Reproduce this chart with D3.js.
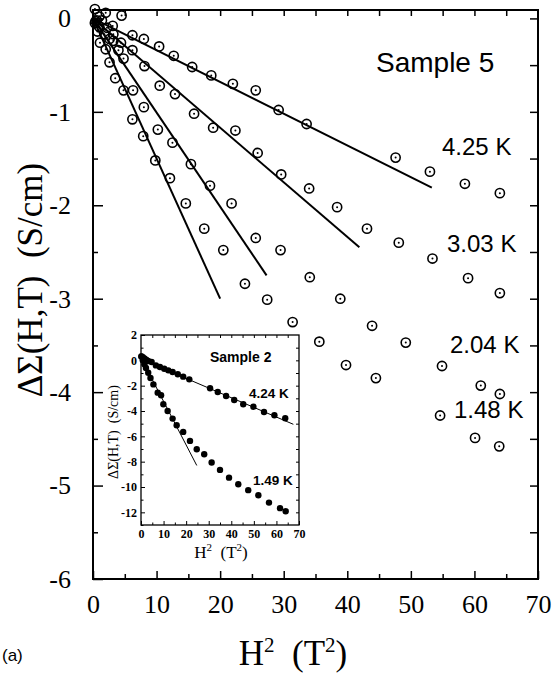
<!DOCTYPE html>
<html>
<head>
<meta charset="utf-8">
<script src="https://cdn.jsdelivr.net/npm/d3@7"></script>
<style>
  body { margin: 0; background: #fff; }
  svg { display: block; }
  .tick text { font-family: "Liberation Serif", "Times New Roman", serif; }
</style>
</head>
<body>
<div id="chart"></div>
<script>
// ---- main panel data (Sample 5), H^2 in T^2, dSigma in S/cm
const h2_425 = [0.3, 1.0, 2.0, 3.1, 4.5, 6.2, 8.0, 10.4, 12.7, 15.6, 18.6, 22.0, 25.6, 29.2, 33.6, 47.6, 53.0, 58.5, 64.0];
const ds_425 = [0.1, 0.02, 0.06, -0.08, 0.03, -0.18, -0.22, -0.30, -0.40, -0.52, -0.61, -0.70, -0.77, -0.98, -1.13, -1.49, -1.64, -1.77, -1.87];

const h2_303 = [0.6, 1.4, 2.2, 3.2, 4.4, 6.2, 8.1, 10.5, 12.9, 15.9, 18.9, 22.4, 25.9, 29.6, 34.0, 38.4, 43.1, 48.1, 53.4, 59.0, 64.0];
const ds_303 = [-0.02, -0.02, -0.10, -0.17, -0.26, -0.34, -0.51, -0.72, -0.81, -1.02, -1.17, -1.20, -1.44, -1.67, -1.82, -2.02, -2.25, -2.40, -2.57, -2.78, -2.94];

const h2_204 = [0.4, 1.0, 1.8, 2.6, 3.2, 4.0, 4.8, 6.3, 8.0, 10.2, 12.5, 15.4, 18.4, 21.8, 25.6, 29.5, 34.1, 38.9, 43.9, 49.2, 54.9, 61.0, 64.0];
const ds_204 = [-0.03, -0.09, -0.17, -0.22, -0.24, -0.34, -0.43, -0.77, -0.95, -1.19, -1.33, -1.56, -1.79, -1.98, -2.35, -2.48, -2.77, -3.00, -3.29, -3.47, -3.72, -3.93, -4.02];

const h2_148 = [0.3, 0.7, 1.1, 2.0, 2.6, 3.5, 4.8, 6.2, 7.9, 9.8, 12.1, 14.6, 17.5, 20.5, 23.9, 27.4, 31.4, 35.6, 39.8, 44.5, 54.6, 60.1, 63.9];
const ds_148 = [-0.05, -0.14, -0.26, -0.33, -0.47, -0.64, -0.77, -1.08, -1.26, -1.52, -1.71, -1.98, -2.25, -2.48, -2.84, -3.01, -3.25, -3.46, -3.71, -3.85, -4.25, -4.49, -4.58];

// fitted straight lines: [x0, y0, x1, y1]
const fit_425 = [0, 0, 53.3, -1.81];
const fit_303 = [0, 0, 41.9, -2.45];
const fit_204 = [0, 0, 27.3, -2.75];
const fit_148 = [0, 0, 20.0, -3.0];

const tempLabels = ["4.25 K", "3.03 K", "2.04 K", "1.48 K"];

// ---- inset data (Sample 2)
const h2_424 = [0.2, 0.8, 1.5, 2.3, 3.2, 4.7, 6.6, 8.4, 10.3, 12.1, 14.0, 16.3, 18.7, 21.4, 30.6, 34.0, 37.7, 41.3, 45.3, 49.8, 54.5, 59.1, 63.9];
const ds_424 = [0.3, 0.25, 0.15, 0.05, -0.05, -0.13, -0.4, -0.53, -0.66, -0.79, -0.92, -1.1, -1.29, -1.5, -2.2, -2.5, -2.82, -3.13, -3.47, -3.66, -4.08, -4.34, -4.57];

const h2_149 = [0.2, 0.8, 1.5, 2.2, 3.2, 4.2, 5.5, 7.4, 8.9, 9.9, 11.8, 14.0, 15.8, 18.7, 21.7, 24.7, 28.0, 31.3, 35.0, 39.0, 43.1, 47.5, 52.0, 56.7, 61.6, 64.1];
const ds_149 = [0.3, 0.0, -0.3, -0.6, -0.98, -1.4, -1.9, -2.55, -2.76, -3.47, -4.0, -4.6, -5.13, -5.65, -6.36, -7.02, -7.41, -8.07, -8.65, -9.26, -9.78, -10.25, -10.65, -11.23, -11.67, -11.91];

const fit_424 = [0, 0.1, 67.5, -5.05];
const fit_149 = [0, 0.2, 24.7, -8.3];

const xTicks = [0, 10, 20, 30, 40, 50, 60, 70];
const yTicks = [0, -1, -2, -3, -4, -5, -6];
const insetYTicks = [2, 0, -2, -4, -6, -8, -10, -12];

const W = 553, H = 673;
const svg = d3.select("#chart").append("svg")
    .attr("width", W)
    .attr("height", H);

// ---------------- main panel
const m = {left: 93, top: 10, width: 445, height: 569};

const x = d3.scaleLinear().domain([0, 70]).range([m.left, m.left + m.width]);
const y = d3.scaleLinear().domain([-6, 0.09]).range([m.top + m.height, m.top]);

const serif = "'Liberation Serif', 'Times New Roman', serif";
const sans = "'Liberation Sans', Arial, Helvetica, sans-serif";

function styleAxis(g, size, weight) {
    g.select(".domain").remove();
    g.selectAll(".tick line").attr("stroke", "#000").attr("stroke-width", 1.5);
    g.selectAll(".tick text")
        .attr("fill", "#000")
        .style("font-family", serif)
        .style("font-size", size + "px")
        .style("font-weight", weight);
}

// bottom axis, major + minor, inward ticks
svg.append("g")
    .attr("transform", `translate(0,${m.top + m.height})`)
    .call(d3.axisBottom(x).tickValues(xTicks).tickSize(-8).tickPadding(16).tickFormat(d => String(d)))
    .call(g => styleAxis(g, 26, "normal"));
svg.append("g")
    .attr("transform", `translate(0,${m.top + m.height})`)
    .call(d3.axisBottom(x).tickValues(d3.range(5, 70, 10)).tickSize(-5).tickFormat(""))
    .call(g => styleAxis(g, 26, "normal"));

// top axis
svg.append("g")
    .attr("transform", `translate(0,${m.top})`)
    .call(d3.axisTop(x).tickValues(d3.range(5, 70, 5)).tickSize(-6).tickFormat(""))
    .call(g => styleAxis(g, 26, "normal"));

// left axis
svg.append("g")
    .attr("transform", `translate(${m.left},0)`)
    .call(d3.axisLeft(y).tickValues(yTicks).tickSize(-10).tickPadding(22).tickFormat(d => String(d)))
    .call(g => styleAxis(g, 26, "normal"));
svg.append("g")
    .attr("transform", `translate(${m.left},0)`)
    .call(d3.axisLeft(y).tickValues(d3.range(-5.5, 0, 1)).tickSize(-5).tickFormat(""))
    .call(g => styleAxis(g, 26, "normal"));

// right axis
svg.append("g")
    .attr("transform", `translate(${m.left + m.width},0)`)
    .call(d3.axisRight(y).tickValues(d3.range(-5.5, 0.01, 0.5)).tickSize(-8).tickFormat(""))
    .call(g => styleAxis(g, 26, "normal"));

// frame
svg.append("rect")
    .attr("x", m.left).attr("y", m.top)
    .attr("width", m.width).attr("height", m.height)
    .attr("fill", "none").attr("stroke", "#000").attr("stroke-width", 2);

// fit lines
const mainFits = [fit_425, fit_303, fit_204, fit_148];
svg.append("g").selectAll("line")
    .data(mainFits)
    .enter().append("line")
    .attr("x1", d => x(d[0])).attr("y1", d => y(d[1]))
    .attr("x2", d => x(d[2])).attr("y2", d => y(d[3]))
    .attr("stroke", "#000").attr("stroke-width", 2);

// open circle markers with centre dot
const mainSeries = [[h2_425, ds_425], [h2_303, ds_303], [h2_204, ds_204], [h2_148, ds_148]];
const mainPts = [];
mainSeries.forEach(s => s[0].forEach((v, i) => mainPts.push({h: v, s: s[1][i]})));

const pts = svg.append("g").selectAll(".pt")
    .data(mainPts)
    .enter().append("g")
    .attr("class", "pt")
    .attr("transform", d => `translate(${x(d.h)},${y(d.s)})`);
pts.append("circle").attr("r", 4.6)
    .attr("fill", "none").attr("stroke", "#000").attr("stroke-width", 1.6);
pts.append("circle").attr("r", 1).attr("fill", "#000");

// temperature labels
const tempPos = [[442, 155], [447, 252], [450, 353], [454, 418]];
svg.append("g").selectAll("text")
    .data(tempLabels)
    .enter().append("text")
    .attr("x", (d, i) => tempPos[i][0])
    .attr("y", (d, i) => tempPos[i][1])
    .style("font-family", sans)
    .style("font-size", "24px")
    .text(d => d);

svg.append("text")
    .attr("x", 376).attr("y", 72)
    .style("font-family", sans)
    .style("font-size", "28px")
    .text("Sample 5");

// axis titles
svg.append("text")
    .attr("transform", "translate(42,280) rotate(-90)")
    .attr("text-anchor", "middle")
    .style("font-family", serif)
    .style("font-size", "35px")
    .text("ΔΣ(H,T)\u00a0\u00a0(S/cm)");

const xt = svg.append("text")
    .attr("x", 293).attr("y", 665)
    .attr("text-anchor", "middle")
    .style("font-family", serif)
    .style("font-size", "35px");
xt.append("tspan").text("H");
xt.append("tspan").attr("dy", -13).style("font-size", "21px").text("2");
xt.append("tspan").attr("dy", 13).text("\u00a0\u00a0(T");
xt.append("tspan").attr("dy", -13).style("font-size", "21px").text("2");
xt.append("tspan").attr("dy", 13).text(")");

svg.append("text")
    .attr("x", 2).attr("y", 661)
    .style("font-family", sans)
    .style("font-size", "17px")
    .text("(a)");

// ---------------- inset
const im = {left: 141, top: 335, width: 158, height: 190};
const ix = d3.scaleLinear().domain([0, 70]).range([im.left, im.left + im.width]);
const iy = d3.scaleLinear().domain([-13, 2]).range([im.top + im.height, im.top]);

svg.append("rect")
    .attr("x", im.left).attr("y", im.top)
    .attr("width", im.width).attr("height", im.height)
    .attr("fill", "#fff");

function styleInset(g) {
    g.select(".domain").remove();
    g.selectAll(".tick line").attr("stroke", "#000").attr("stroke-width", 1);
    g.selectAll(".tick text")
        .attr("fill", "#000")
        .style("font-family", serif)
        .style("font-size", "12px")
        .style("font-weight", "bold");
}

svg.append("g")
    .attr("transform", `translate(0,${im.top + im.height})`)
    .call(d3.axisBottom(ix).tickValues(xTicks).tickSize(-4).tickPadding(4).tickFormat(d => String(d)))
    .call(styleInset);
svg.append("g")
    .attr("transform", `translate(0,${im.top + im.height})`)
    .call(d3.axisBottom(ix).tickValues(d3.range(5, 70, 10)).tickSize(-2.5).tickFormat(""))
    .call(styleInset);
svg.append("g")
    .attr("transform", `translate(0,${im.top})`)
    .call(d3.axisTop(ix).tickValues(d3.range(5, 70, 5)).tickSize(-3).tickFormat(""))
    .call(styleInset);
svg.append("g")
    .attr("transform", `translate(${im.left},0)`)
    .call(d3.axisLeft(iy).tickValues(insetYTicks).tickSize(-4).tickPadding(4).tickFormat(d => String(d)))
    .call(styleInset);
svg.append("g")
    .attr("transform", `translate(${im.left},0)`)
    .call(d3.axisLeft(iy).tickValues(d3.range(-13, 2, 2)).tickSize(-2.5).tickFormat(""))
    .call(styleInset);
svg.append("g")
    .attr("transform", `translate(${im.left + im.width},0)`)
    .call(d3.axisRight(iy).tickValues(d3.range(-12, 2, 1)).tickSize(-3).tickFormat(""))
    .call(styleInset);

svg.append("rect")
    .attr("x", im.left).attr("y", im.top)
    .attr("width", im.width).attr("height", im.height)
    .attr("fill", "none").attr("stroke", "#000").attr("stroke-width", 1.3);

svg.append("g").selectAll("line")
    .data([fit_424, fit_149])
    .enter().append("line")
    .attr("x1", d => ix(d[0])).attr("y1", d => iy(d[1]))
    .attr("x2", d => ix(d[2])).attr("y2", d => iy(d[3]))
    .attr("stroke", "#000").attr("stroke-width", 1);

const insetPts = [];
[[h2_424, ds_424], [h2_149, ds_149]].forEach(s => s[0].forEach((v, i) => insetPts.push({h: v, s: s[1][i]})));
svg.append("g").selectAll("circle")
    .data(insetPts)
    .enter().append("circle")
    .attr("cx", d => ix(d.h)).attr("cy", d => iy(d.s))
    .attr("r", 3.2).attr("fill", "#000");

svg.append("text")
    .attr("x", 210).attr("y", 362)
    .style("font-family", sans).style("font-size", "14px").style("font-weight", "bold")
    .text("Sample 2");
svg.append("text")
    .attr("x", 249).attr("y", 398)
    .style("font-family", sans).style("font-size", "13.5px").style("font-weight", "bold")
    .text("4.24 K");
svg.append("text")
    .attr("x", 253).attr("y", 485)
    .style("font-family", sans).style("font-size", "13.5px").style("font-weight", "bold")
    .text("1.49 K");

svg.append("text")
    .attr("transform", "translate(118,432) rotate(-90)")
    .attr("text-anchor", "middle")
    .style("font-family", serif)
    .style("font-size", "14px")
    .text("ΔΣ(H,T)\u00a0\u00a0(S/cm)");

const ixt = svg.append("text")
    .attr("x", 221).attr("y", 558)
    .attr("text-anchor", "middle")
    .style("font-family", serif)
    .style("font-size", "17px");
ixt.append("tspan").text("H");
ixt.append("tspan").attr("dy", -7).style("font-size", "11px").text("2");
ixt.append("tspan").attr("dy", 7).text("\u00a0\u00a0(T");
ixt.append("tspan").attr("dy", -7).style("font-size", "11px").text("2");
ixt.append("tspan").attr("dy", 7).text(")");
</script>
</body>
</html>
